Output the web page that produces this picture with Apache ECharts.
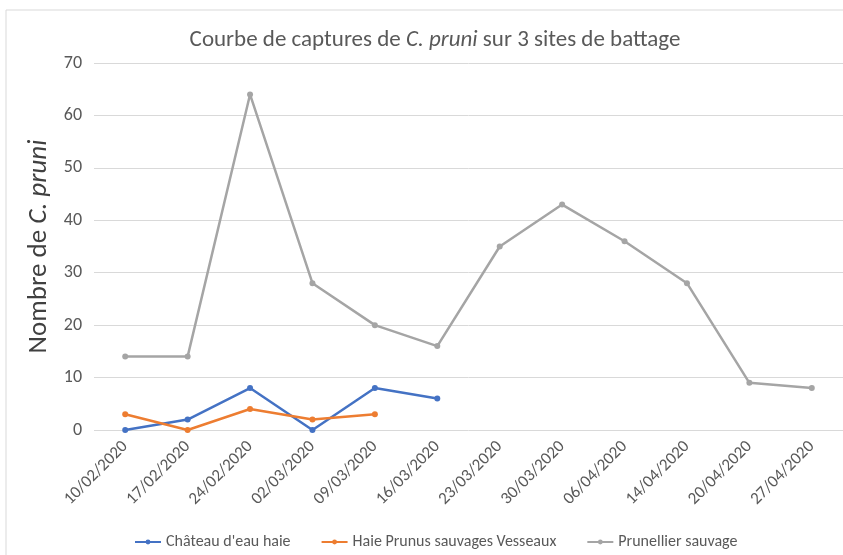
<!DOCTYPE html>
<html><head><meta charset="utf-8">
<script src="https://cdn.jsdelivr.net/npm/echarts@6/dist/echarts.min.js"></script>
<style>html,body{margin:0;padding:0;background:#fff}#c{width:843px;height:555px}</style>
</head><body><div id="c"></div>
<script>
const categories = ['10/02/2020','17/02/2020','24/02/2020','02/03/2020','09/03/2020','16/03/2020','23/03/2020','30/03/2020','06/04/2020','14/04/2020','20/04/2020','27/04/2020'];
const chateau = [0, 2, 8, 0, 8, 6, null, null, null, null, null, null];
const haie = [3, 0, 4, 2, 3, null, null, null, null, null, null, null];
const prunellier = [14, 14, 64, 28, 20, 16, 35, 43, 36, 28, 9, 8];
const seriesNames = ["Château d'eau haie", 'Haie Prunus sauvages Vesseaux', 'Prunellier sauvage'];
const yTicks = {min: 0, max: 70, interval: 10};

const chart = echarts.init(document.getElementById('c'));
const font = 'Calibri, Carlito, "Open Sans", "Noto Sans", sans-serif';
function mk(name, data, color) {
  return {name, type: 'line', data, connectNulls: false, symbol: 'circle', symbolSize: 6,
    lineStyle: {width: 2.5, color}, itemStyle: {color}, z: 3};
}
chart.setOption({
  animation: false,
  textStyle: {fontFamily: font},
  graphic: [{type: 'rect', shape: {x: 6, y: 10, width: 900, height: 600}, style: {fill: 'none', stroke: '#d9d9d9', lineWidth: 1}, silent: true}],
  title: {
    text: '{n|Courbe de captures de }{i|C. pruni}{n| sur 3 sites de battage}',
    left: 430, top: 24, textAlign: 'center',
    textStyle: {fontWeight: 'normal', rich: {n: {fontSize: 23, color: '#595959', fontWeight: 'normal', fontFamily: font}, i: {fontSize: 23, color: '#595959', fontWeight: 'normal', fontStyle: 'italic', fontFamily: font}}}
  },
  legend: {
    bottom: 0, left: 129, itemWidth: 26, itemHeight: 6, itemGap: 30,
    textStyle: {fontSize: 16, color: '#595959', fontFamily: font},
    data: seriesNames
  },
  grid: {left: 94, right: 0, top: 63, bottom: 125},
  xAxis: {
    type: 'category', data: categories, boundaryGap: true,
    axisLine: {show: false}, axisTick: {show: false},
    axisLabel: {rotate: 45, fontSize: 17, color: '#595959', margin: 14, fontFamily: font, interval: 0}
  },
  yAxis: {
    type: 'value', min: yTicks.min, max: yTicks.max, interval: yTicks.interval,
    name: '{n|Nombre de }{i|C. pruni}', nameLocation: 'middle', nameGap: 40, nameRotate: 90,
    nameTextStyle: {rich: {n: {fontSize: 27, color: '#404040', fontFamily: font}, i: {fontSize: 27, color: '#404040', fontStyle: 'italic', fontFamily: font}}},
    axisLine: {show: false}, axisTick: {show: false},
    axisLabel: {fontSize: 18, color: '#595959', margin: 12, fontFamily: font},
    splitLine: {lineStyle: {color: '#d9d9d9', width: 1}}
  },
  series: [
    mk(seriesNames[0], chateau, '#4472C4'),
    mk(seriesNames[1], haie, '#ED7D31'),
    mk(seriesNames[2], prunellier, '#A5A5A5')
  ]
});
</script></body></html>
